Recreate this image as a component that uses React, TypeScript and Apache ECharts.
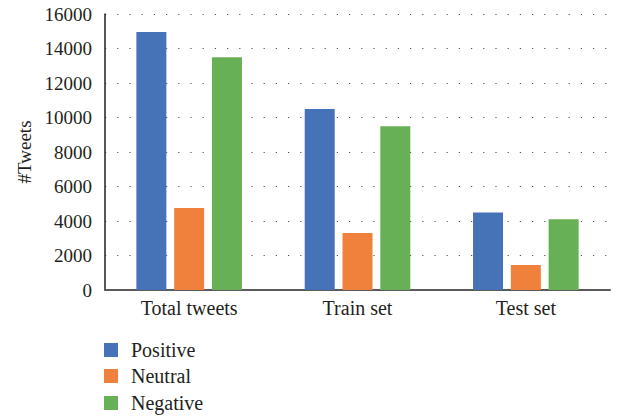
import React, { useEffect, useRef } from "react";
import * as echarts from "echarts";

const categories = ["Total tweets", "Train set", "Test set"];
const positive = [14950, 10500, 4500];
const neutral = [4750, 3300, 1450];
const negative = [13500, 9500, 4100];
const seriesNames = ["Positive", "Neutral", "Negative"];
const colors = ["#4672b8", "#f0813c", "#68b056"];

const FONT = "Liberation Serif";
const TXT = "#231f20";

export default function App() {
  const ref = useRef<HTMLDivElement>(null);
  useEffect(() => {
    if (!ref.current) return;
    const chart = echarts.init(ref.current, undefined, { renderer: "svg" });
    const values = [positive, neutral, negative];
    const legendTops = [340, 366, 393];
    const legendText = {
      fontFamily: FONT,
      fontSize: 20,
      color: TXT,
      padding: [0, 0, 0, 8],
      rich: { s: { fontFamily: FONT, fontSize: 20, color: TXT } },
    };
    chart.setOption({
      animation: false,
      backgroundColor: "#ffffff",
      textStyle: { fontFamily: FONT },
      grid: { left: 105, right: 17, top: 14, bottom: 129 },
      legend: seriesNames.map((name, i) => ({
        orient: "vertical",
        left: 104,
        top: legendTops[i],
        padding: 0,
        itemWidth: 14,
        itemHeight: 14,
        itemGap: 0,
        icon: "rect",
        selectedMode: false,
        data: [name],
        formatter: "{s|{name}}",
        textStyle: legendText,
      })),
      xAxis: {
        type: "category",
        data: categories,
        axisLine: { lineStyle: { color: "#5a5a5a", width: 2 } },
        axisTick: { show: false },
        axisLabel: { fontFamily: FONT, fontSize: 20, color: TXT, margin: 8 },
      },
      yAxis: {
        type: "value",
        min: 0,
        max: 16000,
        interval: 2000,
        name: "#Tweets",
        nameLocation: "middle",
        nameGap: 70,
        nameRotate: 90,
        nameTextStyle: { fontFamily: FONT, fontSize: 19, color: TXT },
        axisLine: { show: true, lineStyle: { color: TXT, width: 1.5 } },
        axisTick: { show: false },
        axisLabel: {
          fontFamily: FONT,
          fontSize: 19,
          color: TXT,
          margin: 13,
          formatter: (v: number) => String(v),
        },
        splitLine: {
          show: true,
          lineStyle: { color: "#555555", width: 1.2, type: [1.2, 11] },
        },
      },
      series: seriesNames.map((name, i) => ({
        name,
        type: "bar",
        data: values[i],
        barWidth: 30,
        barGap: "26%",
        itemStyle: { color: colors[i] },
      })),
    });
    return () => chart.dispose();
  }, []);
  return (
    <div
      ref={ref}
      style={{ position: "absolute", left: 0, top: 0, width: 627, height: 419 }}
    />
  );
}
